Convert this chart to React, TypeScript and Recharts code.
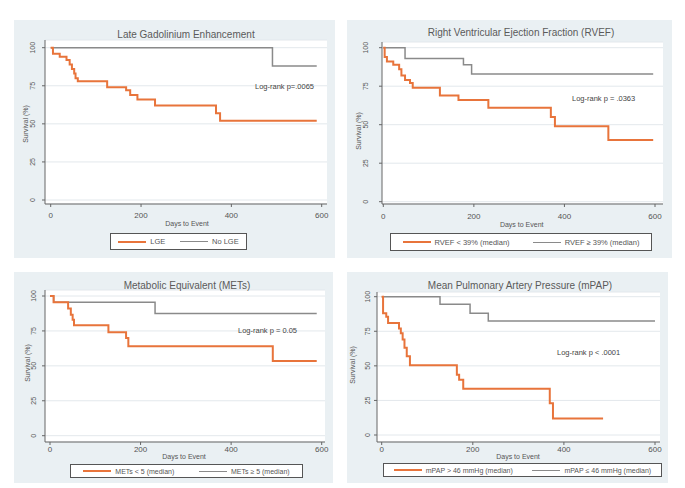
import React from "react";
import { LineChart, Line, XAxis, YAxis, CartesianGrid } from "recharts";

const orange = "#e8743b";
const gray = "#8a8a8a";
const panelBg = "#eaf0f3";
const font = "'Liberation Sans', Arial, sans-serif";

const xTicks = [0, 200, 400, 600];
const yTicks = [0, 25, 50, 75, 100];

// Late Gadolinium Enhancement
const lgeDays = [0, 5, 20, 35, 42, 47, 52, 55, 60, 125, 167, 176, 192, 231, 366, 375, 589];
const lgeSurv = [100, 96, 94, 92, 89, 86, 83, 80, 78, 74, 72, 69, 66, 62, 57, 52, 52];
const noLgeDays = [0, 491, 589];
const noLgeSurv = [100, 88, 88];

// RVEF
const rvefLowDays = [0, 3, 8, 22, 35, 40, 48, 59, 65, 125, 166, 232, 370, 379, 497, 596];
const rvefLowSurv = [100, 94, 91, 89, 86, 82, 79, 77, 74, 69, 66, 61, 55, 49, 40, 40];
const rvefHighDays = [0, 48, 177, 195, 596];
const rvefHighSurv = [100, 93, 89, 83, 83];

// METs
const metsLowDays = [0, 8, 40, 46, 50, 53, 129, 168, 173, 492, 589];
const metsLowSurv = [100, 95.5, 91, 86.5, 83, 79, 74, 70, 64, 53.5, 53.5];
const metsHighDays = [0, 8, 232, 589];
const metsHighSurv = [100, 95.5, 87.5, 87.5];

// mPAP
const mpapHighDays = [0, 3, 10, 14, 38, 42, 46, 50, 55, 62, 165, 170, 179, 369, 376, 486];
const mpapHighSurv = [100, 88, 85.5, 81, 77, 73.5, 69, 63, 57, 50.5, 43.5, 40, 33.5, 23, 12, 12];
const mpapLowDays = [0, 128, 194, 234, 600];
const mpapLowSurv = [100, 94.5, 88, 82.5, 82.5];

const zip = (days: number[], surv: number[]) => days.map((d, i) => ({ d, s: surv[i] }));

const panels = [
  {
    title: "Late Gadolinium Enhancement",
    titlePos: [186, 35],
    bg: { x: 14, y: 20, w: 321, h: 238 },
    plot: { l: 45, r: 327, t: 40, b: 204 },
    x0: 50.7, x600: 321.7, y100: 47.7, y0: 200,
    xTickMargin: 5, yLab: 12,
    yTitle: [25, 124], xTitle: [187, 222.5],
    note: "Log-rank p=.0065", notePos: [255, 87],
    legend: { x: 110, y: 233, w: 137, h: 17, fs: 7.5 },
    labels: ["LGE", "No LGE"],
    orangeData: zip(lgeDays, lgeSurv),
    grayData: zip(noLgeDays, noLgeSurv),
  },
  {
    title: "Right Ventricular Ejection Fraction (RVEF)",
    titlePos: [521, 33],
    bg: { x: 347, y: 20, w: 325, h: 238 },
    plot: { l: 382, r: 663, t: 42, b: 204 },
    x0: 383.3, x600: 655, y100: 47.7, y0: 201.7,
    xTickMargin: 6, yLab: 16,
    yTitle: [358, 131], xTitle: [521.7, 224],
    note: "Log-rank p = .0363", notePos: [572, 99],
    legend: { x: 390, y: 233, w: 262, h: 18, fs: 7.5 },
    labels: ["RVEF < 39% (median)", "RVEF \u2265 39% (median)"],
    orangeData: zip(rvefLowDays, rvefLowSurv),
    grayData: zip(rvefHighDays, rvefHighSurv),
  },
  {
    title: "Metabolic Equivalent (METs)",
    titlePos: [187, 285.7],
    bg: { x: 14, y: 272, w: 319, h: 211 },
    plot: { l: 45, r: 325, t: 290, b: 442 },
    x0: 50, x600: 321.7, y100: 296, y0: 435.7,
    xTickMargin: 1, yLab: 11,
    yTitle: [27, 363], xTitle: [184, 455.5],
    note: "Log-rank p = 0.05", notePos: [238, 331],
    legend: { x: 70, y: 464, w: 233, h: 14, fs: 7 },
    labels: ["METs < 5 (median)", "METs \u2265 5 (median)"],
    orangeData: zip(metsLowDays, metsLowSurv),
    grayData: zip(metsHighDays, metsHighSurv),
  },
  {
    title: "Mean Pulmonary Artery Pressure (mPAP)",
    titlePos: [520, 285.7],
    bg: { x: 347, y: 272, w: 321, h: 211 },
    plot: { l: 377, r: 660, t: 292, b: 442 },
    x0: 381.7, x600: 655, y100: 296.7, y0: 435,
    xTickMargin: 1, yLab: 9,
    yTitle: [352, 365], xTitle: [518, 455.5],
    note: "Log-rank p < .0001", notePos: [557, 353],
    legend: { x: 383, y: 463, w: 279, h: 14, fs: 7 },
    labels: ["mPAP > 46 mmHg (median)", "mPAP \u2264 46 mmHg (median)"],
    orangeData: zip(mpapHighDays, mpapHighSurv),
    grayData: zip(mpapLowDays, mpapLowSurv),
  },
];

function Panel({ p }: { p: any }) {
  const { bg, plot } = p;
  const margin = {
    top: plot.t - bg.y,
    left: plot.l - bg.x - 20,
    right: bg.x + bg.w - plot.r,
    bottom: bg.y + bg.h - plot.b - 20,
  };
  const txt = (pos: number[], s: string, fs: number, extra: any = {}) => (
    <div
      style={{
        position: "absolute",
        left: pos[0] - bg.x,
        top: pos[1] - bg.y,
        transform: "translate(-50%, -50%)",
        whiteSpace: "nowrap",
        fontSize: fs,
        color: "#555",
        lineHeight: 1,
        ...extra,
      }}
    >
      {s}
    </div>
  );
  const lg = p.legend;
  return (
    <div
      style={{
        position: "absolute",
        left: bg.x,
        top: bg.y,
        width: bg.w,
        height: bg.h,
        background: panelBg,
        fontFamily: font,
      }}
    >
      <LineChart width={bg.w} height={bg.h} margin={margin}>
        <CartesianGrid vertical={false} fill="#ffffff" fillOpacity={1} stroke="#e3e8ec" />
        <XAxis
          type="number"
          dataKey="d"
          domain={[0, 600]}
          ticks={xTicks}
          interval={0}
          padding={{ left: p.x0 - plot.l, right: plot.r - p.x600 }}
          height={20}
          tickSize={3}
          tickMargin={p.xTickMargin}
          stroke="#666"
          tick={{ fontSize: 8, fill: "#555", fontFamily: font }}
        />
        {/* stata-style vertical tick labels */}
        <YAxis
          type="number"
          domain={[0, 100]}
          ticks={yTicks}
          interval={0}
          width={20}
          padding={{ top: p.y100 - plot.t, bottom: plot.b - p.y0 }}
          tickSize={3}
          tickMargin={p.yLab - 3}
          stroke="#666"
          tick={{ fontSize: 7, fill: "#555", fontFamily: font, angle: -90, textAnchor: "middle" }}
        />
        <Line
          data={p.grayData}
          dataKey="s"
          type="stepAfter"
          stroke={gray}
          strokeWidth={1.5}
          dot={false}
          isAnimationActive={false}
        />
        <Line
          data={p.orangeData}
          dataKey="s"
          type="stepAfter"
          stroke={orange}
          strokeWidth={2}
          dot={false}
          isAnimationActive={false}
        />
      </LineChart>
      {txt(p.titlePos, p.title, 10, { color: "#5a5a5a" })}
      {txt(p.xTitle, "Days to Event", 7)}
      {txt(p.yTitle, "Survival (%)", 7, { transform: "translate(-50%, -50%) rotate(-90deg)" })}
      <div
        style={{
          position: "absolute",
          left: p.notePos[0] - bg.x,
          top: p.notePos[1] - bg.y,
          transform: "translateY(-50%)",
          whiteSpace: "nowrap",
          fontSize: 7.5,
          color: "#444",
          lineHeight: 1,
        }}
      >
        {p.note}
      </div>
      <div
        style={{
          position: "absolute",
          left: lg.x - bg.x,
          top: lg.y - bg.y,
          width: lg.w,
          height: lg.h,
          boxSizing: "border-box",
          border: "1px solid #555",
          background: "#fff",
          display: "flex",
          alignItems: "center",
          justifyContent: "space-around",
          fontSize: lg.fs,
          color: "#555",
          whiteSpace: "nowrap",
        }}
      >
        {p.labels.map((label: string, i: number) => (
          <div key={label} style={{ display: "flex", alignItems: "center" }}>
            <span
              style={{
                display: "inline-block",
                width: 28,
                height: 0,
                borderTop: `${i === 0 ? 2 : 1.5}px solid ${i === 0 ? orange : gray}`,
                marginRight: 4,
              }}
            />
            <span>{label}</span>
          </div>
        ))}
      </div>
    </div>
  );
}

export default function App() {
  return (
    <div
      style={{
        position: "absolute",
        left: 0,
        top: 0,
        width: 685,
        height: 488,
        background: "#ffffff",
        overflow: "hidden",
      }}
    >
      {panels.map((p) => (
        <Panel key={p.title} p={p} />
      ))}
    </div>
  );
}
